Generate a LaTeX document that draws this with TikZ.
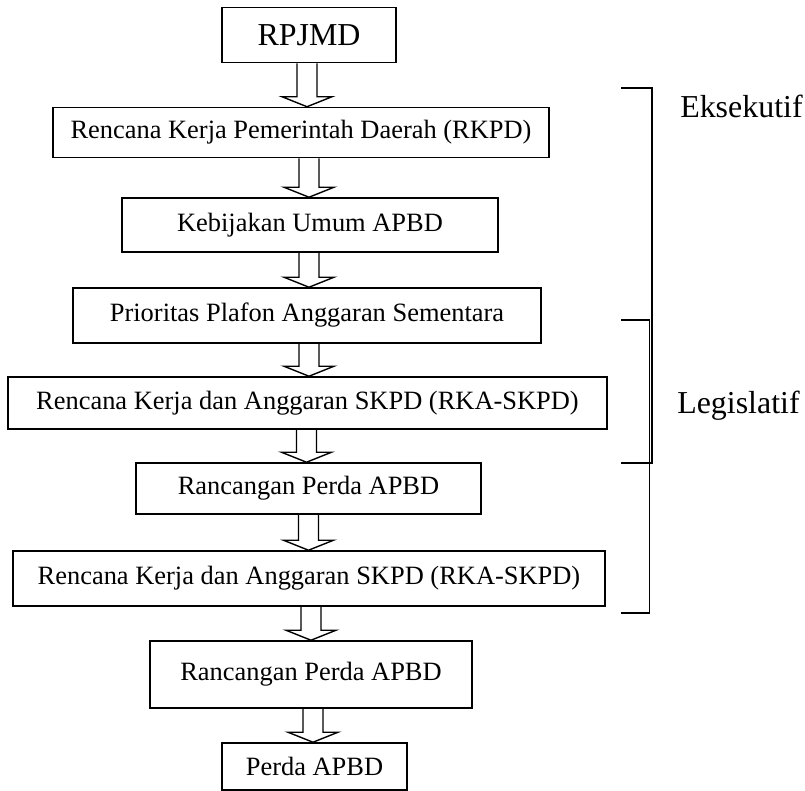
\documentclass[tikz,border=0pt]{standalone}
\usepackage{fontspec}
\setmainfont{Liberation Serif}
\usetikzlibrary{calc}
\tikzset{
  kotak/.style 2 args={draw, line width=1.1pt, inner sep=0pt,
    minimum width=#1*0.025cm, minimum height=#2*0.025cm,
    font=\fontsize{18.8}{22}\selectfont},
  judul/.style={font=\fontsize{22.7}{26}\selectfont, inner sep=0pt},
  panahblok/.style={line width=1pt, line join=miter},
  kurung/.style={line width=1.1pt}
}
\newcommand{\panah}[3][0]{
  \coordinate (s) at ($(#2.south)+(#1,0)$);
  \coordinate (t) at (s |- #3.north);
  \draw[panahblok] ($(s)+(-10,0)$) -- ($(t)+(-10,-10)$) -- ($(t)+(-25,-10)$) -- (t)
    -- ($(t)+(25,-10)$) -- ($(t)+(10,-10)$) -- ($(s)+(10,0)$);
}
\begin{document}
\begin{tikzpicture}[x=0.025cm,y=-0.025cm]
\useasboundingbox (0,0) rectangle (805,791);
% alur dokumen
\node[kotak={174}{55}, judul] (rpjmd) at (309,35) {RPJMD};
\node[kotak={496}{50}] (rkpd) at (301,132.5) {Rencana Kerja Pemerintah Daerah (RKPD)};
\node[kotak={376}{54}] (kua) at (310,225) {Kebijakan Umum APBD};
\node[kotak={468}{55}] (ppas) at (307,315.5) {Prioritas Plafon Anggaran Sementara};
\node[kotak={599}{52}] (rka) at (307.5,403) {Rencana Kerja dan Anggaran SKPD (RKA-SKPD)};
\node[kotak={345}{51}] (raperda) at (308.5,488.5) {Rancangan Perda APBD};
\node[kotak={592}{55}] (rkadua) at (309,578.5) {Rencana Kerja dan Anggaran SKPD (RKA-SKPD)};
\node[kotak={322}{67}] (raperdadua) at (311,674.5) {Rancangan Perda APBD};
\node[kotak={185}{47}] (perda) at (314.5,766.5) {Perda APBD};
\foreach \a/\b/\g in {rpjmd/rkpd/-2, rkpd/kua/8, kua/ppas/-1, ppas/rka/2,
    rka/raperda/-1, raperda/rkadua/0, rkadua/raperdadua/2, raperdadua/perda/2} {
  \panah[\g]{\a}{\b}
}
% kurung eksekutif / legislatif
\draw[kurung] (621,88) -- (652,88) -- (652,463) -- (621,463);
\draw[kurung] (621,320) -- (649.5,320) -- (649.5,613) -- (621,613);
\node[judul, anchor=base west] (eks) at (680,117) {Eksekutif};
\node[judul, anchor=base west] (leg) at (677,413) {Legislatif};
\end{tikzpicture}
\end{document}
